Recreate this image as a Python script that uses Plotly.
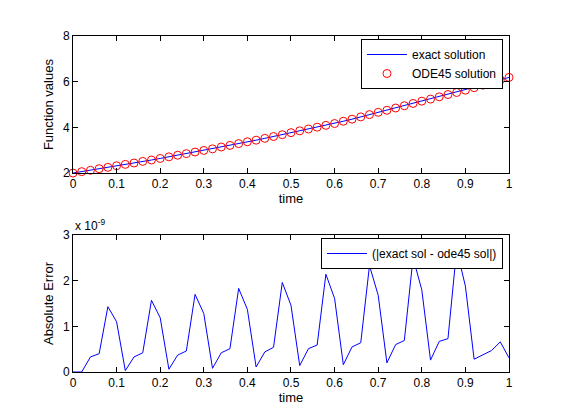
import plotly.graph_objects as go

t = [round(0.02 * i, 2) for i in range(51)]

exact = [2.00, 2.06, 2.12, 2.19, 2.25, 2.32, 2.38, 2.44, 2.51, 2.57,
         2.64, 2.71, 2.78, 2.85, 2.92, 2.99, 3.06, 3.14, 3.21, 3.29,
         3.37, 3.44, 3.52, 3.60, 3.68, 3.77, 3.85, 3.93, 4.01, 4.09,
         4.17, 4.27, 4.36, 4.46, 4.56, 4.66, 4.75, 4.85, 4.95, 5.05,
         5.15, 5.24, 5.34, 5.44, 5.53, 5.63, 5.74, 5.85, 5.96, 6.08,
         6.19]
ode45 = list(exact)

err_e9 = [0.00, 0.00, 0.33, 0.40, 1.43, 1.10, 0.03, 0.33, 0.42, 1.57,
          1.19, 0.06, 0.37, 0.46, 1.70, 1.28, 0.08, 0.42, 0.51, 1.83,
          1.37, 0.11, 0.44, 0.54, 1.96, 1.46, 0.14, 0.51, 0.59, 2.14,
          1.61, 0.16, 0.55, 0.64, 2.33, 1.68, 0.20, 0.60, 0.69, 2.50,
          1.80, 0.26, 0.67, 0.73, 2.68, 1.88, 0.28, 0.37, 0.47, 0.66,
          0.31]
err = [v * 1e-9 for v in err_e9]

xticks = [0, 0.1, 0.2, 0.3, 0.4, 0.5, 0.6, 0.7, 0.8, 0.9, 1]
xticktext = ["0", "0.1", "0.2", "0.3", "0.4", "0.5", "0.6", "0.7", "0.8", "0.9", "1"]
top_yticks = [2, 4, 6, 8]
bot_yticks = [0, 1e-9, 2e-9, 3e-9]
bot_yticktext = ["0", "1", "2", "3"]

FONT = "Liberation Sans, Arial, Helvetica, sans-serif"

fig = go.Figure()
fig.add_trace(go.Scatter(x=t, y=exact, mode="lines", name="exact solution",
                         line=dict(color="#0000FF", width=1),
                         xaxis="x", yaxis="y", legend="legend"))
fig.add_trace(go.Scatter(x=t, y=ode45, mode="markers", name="ODE45 solution",
                         marker=dict(symbol="circle-open", color="#FF0000", size=8,
                                     line=dict(color="#FF0000", width=1)),
                         cliponaxis=False,
                         xaxis="x", yaxis="y", legend="legend"))
fig.add_trace(go.Scatter(x=t, y=err, mode="lines", name="(|exact sol - ode45 sol|)",
                         line=dict(color="#0000FF", width=1),
                         xaxis="x2", yaxis="y2", legend="legend2"))

axcommon = dict(showline=True, linecolor="black", linewidth=1, mirror="ticks",
                ticks="inside", ticklen=5, tickcolor="black", showgrid=False,
                zeroline=False, automargin=False,
                tickfont=dict(family=FONT, size=12, color="black"))

fig.update_layout(
    width=561, height=420,
    margin=dict(l=0, r=0, t=0, b=0),
    paper_bgcolor="white", plot_bgcolor="white",
    font=dict(family=FONT, size=13, color="black"),
    xaxis=dict(domain=[0.1301, 0.9073], range=[0, 1], tickvals=xticks, ticktext=xticktext,
               anchor="y", title=dict(text="time", standoff=2, font=dict(size=13)), **axcommon),
    yaxis=dict(domain=[0.588, 0.914], range=[2, 8], tickvals=top_yticks,
               anchor="x", title=dict(text="Function values", standoff=6, font=dict(size=13)), **axcommon),
    xaxis2=dict(domain=[0.1301, 0.9073], range=[0, 1], tickvals=xticks, ticktext=xticktext,
                anchor="y2", title=dict(text="time", standoff=2, font=dict(size=13)), **axcommon),
    yaxis2=dict(domain=[0.1143, 0.4405], range=[0, 3e-9], tickvals=bot_yticks,
                ticktext=bot_yticktext,
                anchor="x2", title=dict(text="Absolute Error", standoff=6, font=dict(size=13)), **axcommon),
    legend=dict(x=0.8966, y=0.8476, xanchor="right", yanchor="middle",
                bgcolor="white", bordercolor="black", borderwidth=1,
                font=dict(family=FONT, size=12, color="black"),
                tracegroupgap=0, itemwidth=40),
    legend2=dict(x=0.8966, y=0.3964, xanchor="right", yanchor="middle",
                 bgcolor="white", bordercolor="black", borderwidth=1,
                 font=dict(family=FONT, size=12, color="black"), itemwidth=40),
    annotations=[dict(text="x 10<sup>-9</sup>", x=0.1301, y=0.4405, xref="paper", yref="paper",
                      xanchor="left", yanchor="bottom", showarrow=False, yshift=0,
                      font=dict(family=FONT, size=12, color="black"))],
    showlegend=True,
)

fig.write_html("out.html", config={"displayModeBar": False},
               post_script="document.body.style.margin='0px';")
